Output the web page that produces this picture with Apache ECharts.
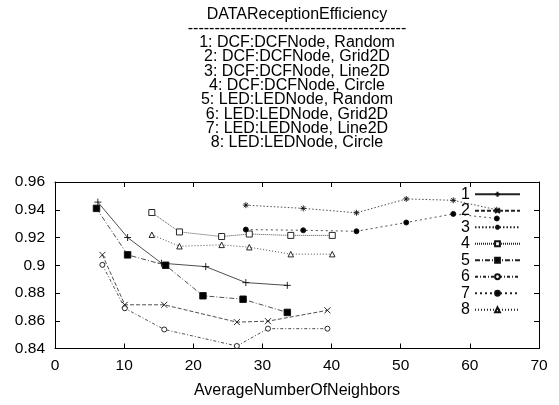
<!DOCTYPE html>
<html>
<head>
<meta charset="utf-8">
<script src="https://cdn.jsdelivr.net/npm/echarts@6/dist/echarts.min.js"></script>
<style>
  html, body { margin: 0; padding: 0; background: #fff; }
  #chart { width: 559px; height: 405px; }
</style>
</head>
<body>
<div id="chart"></div>
<script>
// Reception efficiency of DCF and LED nodes across four topologies
const FONT = '"Liberation Sans", Arial, Helvetica, sans-serif';

const chartTitle = 'DATAReceptionEfficiency';
const seriesLabels = [
  '1: DCF:DCFNode, Random',
  '2: DCF:DCFNode, Grid2D',
  '3: DCF:DCFNode, Line2D',
  '4: DCF:DCFNode, Circle',
  '5: LED:LEDNode, Random',
  '6: LED:LEDNode, Grid2D',
  '7: LED:LEDNode, Line2D',
  '8: LED:LEDNode, Circle'
];
const seriesNames = ['1', '2', '3', '4', '5', '6', '7', '8'];

// average number of neighbors (x) per run
const xDcfRandom = [6.2, 10.5, 15.4, 21.8, 27.6, 33.6];
const xLedRandom = [6.0, 10.5, 16.0, 21.4, 27.2, 33.6];
const xGrid = [6.85, 10.1, 15.8, 26.3, 30.8, 39.4];
const xLine = [27.6, 35.9, 43.6, 50.8, 57.6, 63.9];
const xCircle = [14.0, 18.0, 24.1, 28.1, 34.1, 40.1];

// reception efficiency (y)
const yDcfRandom = [0.9455, 0.920, 0.9015, 0.899, 0.8875, 0.8855];
const yDcfGrid = [0.9075, 0.8715, 0.8715, 0.859, 0.8597, 0.8675];
const yDcfLine = [0.9433, 0.941, 0.9378, 0.9478, 0.9468, 0.940];
const yDcfCircle = [0.938, 0.924, 0.9207, 0.9225, 0.9215, 0.9215];
const yLedRandom = [0.941, 0.9075, 0.900, 0.878, 0.8755, 0.866];
const yLedGrid = [0.9003, 0.869, 0.8537, 0.8418, 0.8543, 0.8543];
const yLedLine = [0.9257, 0.9252, 0.9245, 0.9308, 0.937, 0.9337];
const yLedCircle = [0.922, 0.9137, 0.9147, 0.913, 0.908, 0.908];

const xTicks = { min: 0, max: 70, interval: 10 };
const yTicks = { min: 0.84, max: 0.96, interval: 0.02 };
const xName = 'AverageNumberOfNeighbors';

const zip = (xs, ys) => xs.map((x, i) => [x, ys[i]]);

const PLUS = 'path://M0,5L10,5M5,0L5,10';
const CROSS = 'path://M0,0L10,10M10,0L0,10';
const STAR = 'path://M0,5L10,5M5,0L5,10M1.5,1.5L8.5,8.5M8.5,1.5L1.5,8.5';

const seriesDefs = [
  { data: zip(xDcfRandom, yDcfRandom), dash: 'solid', symbol: PLUS, size: 7, fill: '#000' },
  { data: zip(xGrid, yDcfGrid), dash: [4, 2], symbol: CROSS, size: 6, fill: '#000' },
  { data: zip(xLine, yDcfLine), dash: [1.5, 2], symbol: STAR, size: 6, fill: '#000' },
  { data: zip(xCircle, yDcfCircle), dash: [1, 1], symbol: 'rect', size: 6, fill: '#fff' },
  { data: zip(xLedRandom, yLedRandom), dash: [5, 2, 1, 2], symbol: 'rect', size: 6.5, fill: '#000' },
  { data: zip(xGrid, yLedGrid), dash: [3, 2, 1, 2], symbol: 'circle', size: 5, fill: '#fff' },
  { data: zip(xLine, yLedLine), dash: [2, 3], symbol: 'circle', size: 5, fill: '#000' },
  { data: zip(xCircle, yLedCircle), dash: [1, 2], symbol: 'triangle', size: 5.5, fill: '#fff' }
];

const series = seriesDefs.map((d, i) => ({
  name: seriesNames[i],
  type: 'line',
  xAxisIndex: 0,
  yAxisIndex: 0,
  data: d.data,
  symbol: d.symbol,
  symbolSize: d.size,
  showSymbol: true,
  lineStyle: { color: '#222', width: 0.8, type: d.dash },
  itemStyle: { color: d.fill, borderColor: '#111', borderWidth: 0.9 },
  emphasis: { disabled: true },
  z: 3 + i
}));

const tickStyle = { show: true, inside: true, length: 5, lineStyle: { color: '#000', width: 1 } };
const frameLine = { show: true, onZero: false, lineStyle: { color: '#000', width: 1 } };
const labelStyle = { fontFamily: FONT, fontSize: 15.5, color: '#000' };

const titleText = [chartTitle, '-'.repeat(41)].concat(seriesLabels).join('\n');

const chart = echarts.init(document.getElementById('chart'), null, { renderer: 'canvas' });
chart.setOption({
  animation: false,
  backgroundColor: '#fff',
  title: {
    text: titleText,
    left: 297,
    textAlign: 'center',
    top: 0,
    padding: [7, 0, 0, 0],
    textStyle: { fontFamily: FONT, fontSize: 16, fontWeight: 'normal', color: '#000', lineHeight: 14.3 }
  },
  grid: { left: 55, right: 20, top: 182, bottom: 56.5, containLabel: false },
  legend: {
    orient: 'vertical',
    right: 38,
    top: 186,
    padding: 0,
    align: 'right',
    itemWidth: 45,
    itemHeight: 6,
    itemGap: 0,
    selectedMode: false,
    textStyle: { fontFamily: FONT, fontSize: 16, color: '#000', lineHeight: 16.5 },
    data: seriesNames
  },
  xAxis: [
    {
      type: 'value', position: 'bottom', ...xTicks,
      axisLine: frameLine, axisTick: tickStyle, splitLine: { show: false },
      axisLabel: { ...labelStyle, margin: 9 },
      name: xName, nameLocation: 'middle', nameGap: 34,
      nameTextStyle: { fontFamily: FONT, fontSize: 16, color: '#000' }
    },
    {
      type: 'value', position: 'top', ...xTicks,
      axisLine: frameLine, axisTick: tickStyle, splitLine: { show: false },
      axisLabel: { show: false }
    }
  ],
  yAxis: [
    {
      type: 'value', position: 'left', ...yTicks,
      axisLine: frameLine, axisTick: tickStyle, splitLine: { show: false },
      axisLabel: { ...labelStyle, margin: 10 }
    },
    {
      type: 'value', position: 'right', ...yTicks,
      axisLine: frameLine, axisTick: tickStyle, splitLine: { show: false },
      axisLabel: { show: false }
    }
  ],
  series: series
});
</script>
</body>
</html>
